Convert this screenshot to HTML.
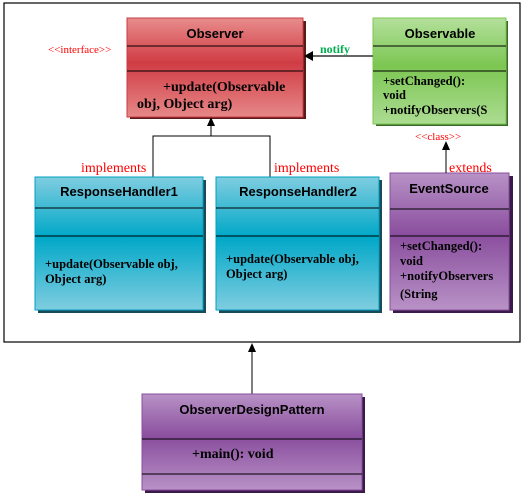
<!DOCTYPE html>
<html><head><style>html,body{margin:0;padding:0;background:#fff;}svg{display:block}</style></head>
<body>
<svg width="524" height="494" xmlns="http://www.w3.org/2000/svg" font-family="Liberation Serif, serif">
<defs>
<linearGradient id="red" x1="0" y1="0" x2="0" y2="1"><stop offset="0" stop-color="#e88c8c"/><stop offset="0.45" stop-color="#d03c44"/><stop offset="1" stop-color="#e68888"/></linearGradient>
<linearGradient id="grn" x1="0" y1="0" x2="0" y2="1"><stop offset="0" stop-color="#b4e09c"/><stop offset="0.45" stop-color="#7cc652"/><stop offset="1" stop-color="#acdc92"/></linearGradient>
<linearGradient id="cyn" x1="0" y1="0" x2="0" y2="1"><stop offset="0" stop-color="#80cde0"/><stop offset="0.45" stop-color="#00a8c8"/><stop offset="1" stop-color="#80cde0"/></linearGradient>
<linearGradient id="pur" x1="0" y1="0" x2="0" y2="1"><stop offset="0" stop-color="#b892c6"/><stop offset="0.45" stop-color="#8a4e9e"/><stop offset="1" stop-color="#b892c6"/></linearGradient>
</defs>
<rect x="4" y="3" width="516" height="339" fill="none" stroke="#000" stroke-width="1.2"/>

<!-- Observer -->
<rect x="130" y="21" width="176" height="98" fill="#5a1a1a"/>
<rect x="127" y="18" width="176" height="99" fill="url(#red)" stroke="#c83c44"/>
<line x1="127" y1="46" x2="303" y2="46" stroke="#000"/>
<line x1="127" y1="71" x2="303" y2="71" stroke="#000"/>
<text x="215" y="38" font-family="Liberation Sans, sans-serif" font-weight="bold" font-size="13" text-anchor="middle">Observer</text>
<text x="163" y="91" font-weight="bold" font-size="14">+update(Observable</text>
<text x="137" y="108" font-weight="bold" font-size="14">obj, Object arg)</text>
<text x="48" y="53" font-size="11" fill="#f00">&lt;&lt;interface&gt;&gt;</text>

<!-- Observable -->
<rect x="376" y="21" width="132" height="105" fill="#3a6a2a"/>
<rect x="373" y="18" width="133" height="106" fill="url(#grn)" stroke="#7cc652"/>
<line x1="373" y1="46" x2="506" y2="46" stroke="#000"/>
<line x1="373" y1="71" x2="506" y2="71" stroke="#000"/>
<text x="440" y="38" font-family="Liberation Sans, sans-serif" font-weight="bold" font-size="13" text-anchor="middle">Observable</text>
<text x="383" y="85" font-weight="bold" font-size="12.5">+setChanged():</text>
<text x="383" y="99" font-weight="bold" font-size="12.5">void</text>
<text x="383" y="114" font-weight="bold" font-size="12.5">+notifyObservers(S</text>
<line x1="373" y1="56" x2="312" y2="56" stroke="#666" stroke-width="2"/>
<polygon points="304,56 313,51 313,61" fill="#000"/>
<text x="320" y="53" font-size="12" font-weight="bold" fill="#00b050">notify</text>

<!-- implements connectors -->
<line x1="211" y1="125" x2="211" y2="136" stroke="#000"/>
<polygon points="211,117 207,126 215,126" fill="#000"/>
<polyline points="153,177 153,136 270,136 270,177" fill="none" stroke="#000"/>
<text x="81" y="172" font-size="14" fill="#f00">implements</text>
<text x="274" y="172" font-size="14" fill="#f00">implements</text>

<!-- RH1 -->
<rect x="38" y="180" width="168" height="133" fill="#1a4a5a"/>
<rect x="35" y="177" width="168" height="133" fill="url(#cyn)" stroke="#00a0c0"/>
<line x1="35" y1="208" x2="203" y2="208" stroke="#000"/>
<line x1="35" y1="236" x2="203" y2="236" stroke="#000"/>
<text x="119" y="196" font-family="Liberation Sans, sans-serif" font-weight="bold" font-size="13" text-anchor="middle">ResponseHandler1</text>
<text x="45" y="268" font-weight="bold" font-size="12.5">+update(Observable obj,</text>
<text x="45" y="283" font-weight="bold" font-size="12.5">Object arg)</text>

<!-- RH2 -->
<rect x="219" y="180" width="163" height="133" fill="#1a4a5a"/>
<rect x="216" y="177" width="163" height="133" fill="url(#cyn)" stroke="#00a0c0"/>
<line x1="216" y1="208" x2="379" y2="208" stroke="#000"/>
<line x1="216" y1="236" x2="379" y2="236" stroke="#000"/>
<text x="298" y="196" font-family="Liberation Sans, sans-serif" font-weight="bold" font-size="13" text-anchor="middle">ResponseHandler2</text>
<text x="226" y="263" font-weight="bold" font-size="12.5">+update(Observable obj,</text>
<text x="226" y="278" font-weight="bold" font-size="12.5">Object arg)</text>

<!-- EventSource -->
<rect x="393" y="176" width="120" height="137" fill="#3a1a4a"/>
<rect x="390" y="173" width="119" height="137" fill="url(#pur)" stroke="#8a4e9e"/>
<line x1="390" y1="209" x2="509" y2="209" stroke="#000"/>
<line x1="390" y1="236" x2="509" y2="236" stroke="#000"/>
<text x="449" y="193" font-family="Liberation Sans, sans-serif" font-weight="bold" font-size="13" text-anchor="middle">EventSource</text>
<text x="400" y="250" font-weight="bold" font-size="12.5">+setChanged():</text>
<text x="400" y="265" font-weight="bold" font-size="12.5">void</text>
<text x="400" y="280" font-weight="bold" font-size="12.5">+notifyObservers</text>
<text x="400" y="298" font-weight="bold" font-size="12.5">(String</text>
<line x1="446" y1="173" x2="446" y2="150" stroke="#000"/>
<polygon points="446,141 442,150 450,150" fill="#000"/>
<text x="449" y="172" font-size="14" fill="#f00">extends</text>
<text x="415" y="140" font-size="11" fill="#f00">&lt;&lt;class&gt;&gt;</text>

<!-- ObserverDesignPattern -->
<line x1="252" y1="394" x2="252" y2="351" stroke="#000"/>
<polygon points="252,343 248,352 256,352" fill="#000"/>
<rect x="145" y="397" width="220" height="96" fill="#3a1a4a"/>
<rect x="142" y="394" width="220" height="96" fill="url(#pur)" stroke="#8a4e9e"/>
<line x1="142" y1="439" x2="362" y2="439" stroke="#000"/>
<line x1="142" y1="474" x2="362" y2="474" stroke="#000"/>
<text x="252" y="414" font-family="Liberation Sans, sans-serif" font-weight="bold" font-size="13" text-anchor="middle">ObserverDesignPattern</text>
<text x="192" y="458" font-weight="bold" font-size="14">+main(): void</text>
</svg>
</body></html>
